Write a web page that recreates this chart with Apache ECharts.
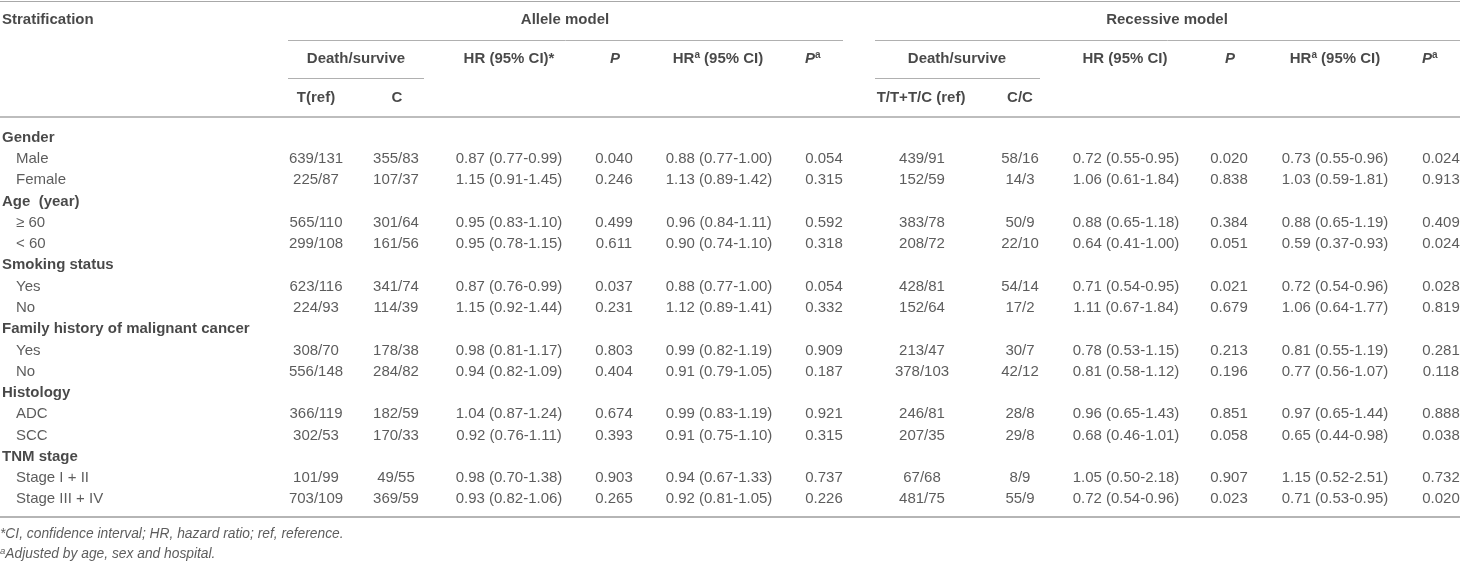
<!DOCTYPE html>
<html><head><meta charset="utf-8">
<script src="https://cdn.jsdelivr.net/npm/echarts@6/dist/echarts.min.js"></script>
<style>html,body{margin:0;padding:0;background:#fff}#c{width:1460px;height:561px}</style>
</head><body><div id="c"></div>
<script>
// ---------- DATA ----------
const rowLabels = ['Gender','Male','Female','Age  (year)','\u2265 60','< 60','Smoking status','Yes','No',
  'Family history of malignant cancer','Yes','No','Histology','ADC','SCC','TNM stage','Stage I + II','Stage III + IV'];
const rowIsGroup = [1,0,0,1,0,0,1,0,0,1,0,0,1,0,0,1,0,0];

const alleleT   = ['639/131','225/87','565/110','299/108','623/116','224/93','308/70','556/148','366/119','302/53','101/99','703/109'];
const alleleC   = ['355/83','107/37','301/64','161/56','341/74','114/39','178/38','284/82','182/59','170/33','49/55','369/59'];
const alleleHR  = ['0.87 (0.77-0.99)','1.15 (0.91-1.45)','0.95 (0.83-1.10)','0.95 (0.78-1.15)','0.87 (0.76-0.99)','1.15 (0.92-1.44)','0.98 (0.81-1.17)','0.94 (0.82-1.09)','1.04 (0.87-1.24)','0.92 (0.76-1.11)','0.98 (0.70-1.38)','0.93 (0.82-1.06)'];
const alleleP   = ['0.040','0.246','0.499','0.611','0.037','0.231','0.803','0.404','0.674','0.393','0.903','0.265'];
const alleleHRa = ['0.88 (0.77-1.00)','1.13 (0.89-1.42)','0.96 (0.84-1.11)','0.90 (0.74-1.10)','0.88 (0.77-1.00)','1.12 (0.89-1.41)','0.99 (0.82-1.19)','0.91 (0.79-1.05)','0.99 (0.83-1.19)','0.91 (0.75-1.10)','0.94 (0.67-1.33)','0.92 (0.81-1.05)'];
const allelePa  = ['0.054','0.315','0.592','0.318','0.054','0.332','0.909','0.187','0.921','0.315','0.737','0.226'];

const recTT   = ['439/91','152/59','383/78','208/72','428/81','152/64','213/47','378/103','246/81','207/35','67/68','481/75'];
const recCC   = ['58/16','14/3','50/9','22/10','54/14','17/2','30/7','42/12','28/8','29/8','8/9','55/9'];
const recHR   = ['0.72 (0.55-0.95)','1.06 (0.61-1.84)','0.88 (0.65-1.18)','0.64 (0.41-1.00)','0.71 (0.54-0.95)','1.11 (0.67-1.84)','0.78 (0.53-1.15)','0.81 (0.58-1.12)','0.96 (0.65-1.43)','0.68 (0.46-1.01)','1.05 (0.50-2.18)','0.72 (0.54-0.96)'];
const recP    = ['0.020','0.838','0.384','0.051','0.021','0.679','0.213','0.196','0.851','0.058','0.907','0.023'];
const recHRa  = ['0.73 (0.55-0.96)','1.03 (0.59-1.81)','0.88 (0.65-1.19)','0.59 (0.37-0.93)','0.72 (0.54-0.96)','1.06 (0.64-1.77)','0.81 (0.55-1.19)','0.77 (0.56-1.07)','0.97 (0.65-1.44)','0.65 (0.44-0.98)','1.15 (0.52-2.51)','0.71 (0.53-0.95)'];
const recPa   = ['0.024','0.913','0.409','0.024','0.028','0.819','0.281','0.118','0.888','0.038','0.732','0.020'];

const footnotes = ['*CI, confidence interval; HR, hazard ratio; ref, reference.', 'Adjusted by age, sex and hospital.'];

// ---------- LAYOUT ----------
const FONT = '"Liberation Sans", Arial, Helvetica, sans-serif';
const L = {
  rowTop: 137.7, rowStep: 21.27,
  hdrY: [20, 59, 98],
  groupX: 2, subX: 16,
  col: { aT:316, aC:396, aHR:509, aP:614, aHRa:719, aPa:824, rTT:922, rCC:1020, rHR:1126, rP:1229, rHRa:1335, rPa:1441 },
  footY: [534, 554]
};
const rowY = i => L.rowTop + i * L.rowStep;
const dataRowIdx = rowIsGroup.map((g, i) => g ? -1 : i).filter(i => i >= 0);

const rich = {
  b:  { fontFamily: FONT, fontSize: 15, fontWeight: 'bold', color: '#1a1a1a', lineHeight: 18 },
  bi: { fontFamily: FONT, fontSize: 15, fontWeight: 'bold', fontStyle: 'italic', color: '#1a1a1a', lineHeight: 18 },
  s:  { fontFamily: FONT, fontSize: 10, fontWeight: 'bold', color: '#1a1a1a', lineHeight: 18, verticalAlign: 'top' },
  si: { fontFamily: FONT, fontSize: 9.5, fontStyle: 'italic', color: '#333', lineHeight: 16, verticalAlign: 'top' },
  i:  { fontFamily: FONT, fontSize: 13.8, fontStyle: 'italic', color: '#333', lineHeight: 16 }
};

function textSeries(items, align, base) {
  return {
    type: 'scatter', silent: true, symbolSize: 0, itemStyle: { color: 'transparent' },
    data: items.map(it => ({ value: [it[0], it[1], it[2]] })),
    label: Object.assign({
      show: true,
      position: align === 'left' ? 'right' : 'inside',
      distance: 0,
      align: align, verticalAlign: 'middle',
      formatter: p => p.value[2],
      rich: rich,
      fontFamily: FONT, fontSize: 15, color: '#333'
    }, base || {})
  };
}

function colSeries(arr, x) {
  return textSeries(arr.map((v, j) => [x, rowY(dataRowIdx[j]), v]), 'center');
}

const series = [];
// row labels
series.push(textSeries(rowLabels.map((t, i) => rowIsGroup[i] ? [L.groupX, rowY(i), '{b|' + t + '}'] : null).filter(Boolean), 'left'));
series.push(textSeries(rowLabels.map((t, i) => rowIsGroup[i] ? null : [L.subX, rowY(i), t]).filter(Boolean), 'left'));
// data columns
[[alleleT,'aT'],[alleleC,'aC'],[alleleHR,'aHR'],[alleleP,'aP'],[alleleHRa,'aHRa'],[allelePa,'aPa'],
 [recTT,'rTT'],[recCC,'rCC'],[recHR,'rHR'],[recP,'rP'],[recHRa,'rHRa'],[recPa,'rPa']].forEach(([a, k]) => series.push(colSeries(a, L.col[k])));

// headers
const H = L.hdrY;
series.push(textSeries([[2, H[0], '{b|Stratification}']], 'left'));
series.push(textSeries([
  [565, H[0], '{b|Allele model}'], [1167, H[0], '{b|Recessive model}'],
  [356, H[1], '{b|Death/survive}'], [509, H[1], '{b|HR (95% CI)*}'], [615, H[1], '{bi|P}'], [718, H[1], '{b|HR}{s|a}{b| (95% CI)}'],
  [957, H[1], '{b|Death/survive}'], [1125, H[1], '{b|HR (95% CI)}'], [1230, H[1], '{bi|P}'], [1335, H[1], '{b|HR}{s|a}{b| (95% CI)}'],
  [316, H[2], '{b|T(ref)}'], [397, H[2], '{b|C}'], [921, H[2], '{b|T/T+T/C (ref)}'], [1020, H[2], '{b|C/C}']
], 'center'));
series.push(textSeries([[805, H[1], '{bi|P}{s|a}'], [1422, H[1], '{bi|P}{s|a}']], 'left'));
// footnotes
series.push(textSeries([[0, L.footY[0], '{i|' + footnotes[0] + '}'], [0, L.footY[1], '{si|a}{i|' + footnotes[1] + '}']], 'left'));

// rules
const rule = (x1, x2, y, w, c) => ({ coords: [[x1, y], [x2, y]], lineStyle: { width: w, color: c } });
series.push({
  type: 'lines', coordinateSystem: 'cartesian2d', silent: true, polyline: false,
  lineStyle: { color: '#aaa', width: 1, opacity: 1 },
  data: [
    rule(0, 1460, 1, 1.2, '#a8a8a8'),
    rule(288, 843, 40, 1, '#b0b0b0'), rule(875, 1460, 40, 1, '#b0b0b0'),
    rule(288, 424, 78, 1, '#b0b0b0'), rule(875, 1040, 78, 1, '#b0b0b0'),
    rule(0, 1460, 116.5, 2, '#bdbdbd'),
    rule(0, 1460, 517, 2, '#b5b5b5')
  ]
});

const chart = echarts.init(document.getElementById('c'), null, { renderer: 'canvas' });
chart.setOption({
  animation: false,
  backgroundColor: '#fff',
  grid: { left: 0, right: 0, top: 0, bottom: 0 },
  xAxis: { type: 'value', min: 0, max: 1460, show: false },
  yAxis: { type: 'value', min: 0, max: 561, inverse: true, show: false },
  series: series
});
</script></body></html>
